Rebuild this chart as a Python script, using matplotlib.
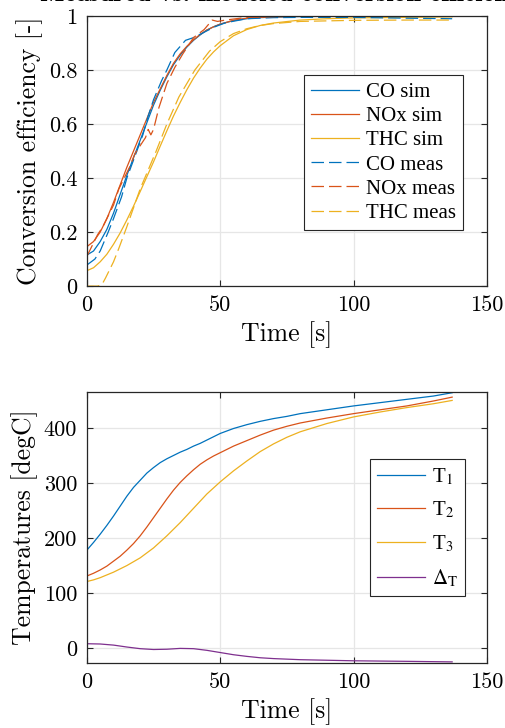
import matplotlib
matplotlib.use("Agg")
import matplotlib.pyplot as plt

# conversion efficiency, simulated
t_sim = [0, 2.5, 5, 7.5, 10, 12.5, 15, 17.5, 20, 22.5, 25, 27.5, 30, 32.5, 35, 37.5, 40, 42.5,
         45, 47.5, 50, 55, 60, 65, 70, 80, 90, 100, 120, 137]
co_sim = [0.115, 0.13, 0.165, 0.21, 0.27, 0.34, 0.41, 0.475, 0.54, 0.605, 0.67, 0.725, 0.775,
          0.82, 0.855, 0.885, 0.91, 0.93, 0.948, 0.96, 0.97, 0.983, 0.99, 0.994, 0.996, 0.998,
          0.999, 0.999, 1.0, 1.0]
nox_sim = [0.146, 0.165, 0.2, 0.25, 0.31, 0.375, 0.44, 0.5, 0.56, 0.62, 0.68, 0.73, 0.78,
           0.825, 0.86, 0.888, 0.912, 0.932, 0.948, 0.96, 0.97, 0.984, 0.992, 0.995, 0.997,
           0.999, 1.0, 1.0, 1.0, 1.0]
thc_sim = [0.057, 0.068, 0.09, 0.118, 0.155, 0.197, 0.245, 0.296, 0.35, 0.405, 0.46, 0.518,
           0.575, 0.63, 0.68, 0.727, 0.77, 0.807, 0.84, 0.867, 0.89, 0.927, 0.95, 0.965, 0.974,
           0.985, 0.99, 0.993, 0.995, 0.997]

# conversion efficiency, measured
t_co_meas = [0, 3, 5, 8, 10, 13, 15, 18, 21, 23, 25, 28, 30, 33, 37, 40, 44, 48, 52, 60, 70, 80,
             100, 120, 137]
co_meas = [0.078, 0.1, 0.13, 0.2, 0.25, 0.33, 0.4, 0.48, 0.56, 0.63, 0.69, 0.76, 0.8, 0.865,
           0.91, 0.92, 0.94, 0.96, 0.975, 0.99, 0.994, 0.995, 0.995, 0.992, 0.99]
t_nox_meas = [0, 2, 4, 6, 8, 10, 12, 14, 16, 18, 20, 22, 23, 24, 25, 27, 30, 33, 36, 40, 44,
              47, 49, 52, 60, 80, 100, 137]
nox_meas = [0.11, 0.15, 0.19, 0.22, 0.26, 0.3, 0.36, 0.4, 0.44, 0.49, 0.52, 0.55, 0.58, 0.56,
            0.58, 0.66, 0.75, 0.81, 0.86, 0.92, 0.95, 0.985, 0.98, 0.985, 0.995, 1.0, 1.0, 1.0]
t_thc_meas = [0, 4, 5, 6, 7, 8, 10, 12, 15, 17.5, 20, 23, 26, 30, 34.5, 40.5, 46, 50, 55, 60,
              65, 70, 80, 100, 120, 137]
thc_meas = [0.0, 0.0, 0.003, 0.012, 0.03, 0.05, 0.09, 0.14, 0.22, 0.29, 0.36, 0.43, 0.5, 0.6,
            0.7, 0.8, 0.87, 0.905, 0.935, 0.953, 0.965, 0.972, 0.98, 0.984, 0.985, 0.985]

# temperatures
t_temp = [0, 2.5, 5, 7.5, 10, 12.5, 15, 17.5, 20, 22.5, 25, 27.5, 30, 32.5, 35, 37.5, 40, 42.5,
          45, 47.5, 50, 55, 60, 65, 70, 75, 80, 90, 100, 110, 120, 130, 137]
T1 = [178, 192, 207, 223, 240, 258, 276, 292, 305, 318, 328, 337, 344, 350, 356, 361, 367, 372,
      378, 384, 390, 399, 406, 412, 417, 421, 426, 433, 440, 446, 452, 458, 464]
T2 = [131, 136, 142, 149, 158, 167, 178, 190, 204, 220, 237, 254, 271, 287, 301, 313, 324, 334,
      342, 349, 355, 367, 377, 387, 396, 403, 409, 418, 426, 433, 440, 449, 456]
T3 = [121, 124, 128, 133, 138, 144, 150, 157, 164, 173, 182, 193, 204, 216, 228, 241, 254, 267,
      280, 291, 302, 322, 340, 357, 371, 383, 393, 408, 420, 429, 437, 444, 450]
t_dT = [0, 5, 10, 15, 20, 25, 30, 35, 40, 45, 50, 55, 60, 65, 70, 80, 90, 100, 120, 137]
dT = [8, 7.5, 5.5, 2, -1, -2.5, -2, -0.5, -1, -4, -8, -12, -15, -17.5, -19, -21, -22, -23,
      -24, -25]

C1, C2, C3, C4 = "#0072BD", "#D95319", "#EDB120", "#7E2F8E"
DASH = (0, (10, 4))

plt.rcParams["font.family"] = ["cmr10", "DejaVu Serif"]
plt.rcParams["axes.unicode_minus"] = False


def style(ax):
    ax.grid(True, color="#e6e6e6", lw=0.9)
    ax.set_axisbelow(True)
    for s in ax.spines.values():
        s.set_color("#262626")
        s.set_linewidth(0.9)
    ax.tick_params(direction="in", top=True, right=True, length=4, width=0.8,
                   color="#262626", labelsize=16, pad=7)
    ax.set_xlim(0, 150)
    ax.set_xticks([0, 50, 100, 150], ["0", "50", "100", "150"])


def legend(ax, anchor, spacing):
    leg = ax.legend(loc="upper right", bbox_to_anchor=anchor, borderaxespad=0,
                    fancybox=False, framealpha=1, edgecolor="#262626", handlelength=2.3,
                    labelspacing=spacing, borderpad=0.35, handletextpad=0.3,
                    prop={"family": "Liberation Serif", "size": 15})
    leg.get_frame().set_linewidth(0.8)
    for txt in leg.get_texts():
        txt.set_math_fontfamily("stix")
    return leg


fig = plt.figure(figsize=(5.05, 7.28), dpi=100)
ax1 = fig.add_axes([0.172, 0.607, 0.792, 0.371])
ax2 = fig.add_axes([0.172, 0.0893, 0.792, 0.372])

lw = 0.9
ax1.plot(t_sim, co_sim, color=C1, lw=lw, label="CO sim")
ax1.plot(t_sim, nox_sim, color=C2, lw=lw, label="NOx sim")
ax1.plot(t_sim, thc_sim, color=C3, lw=lw, label="THC sim")
ax1.plot(t_co_meas, co_meas, color=C1, lw=lw, ls=DASH, label="CO meas")
ax1.plot(t_nox_meas, nox_meas, color=C2, lw=lw, ls=DASH, label="NOx meas")
ax1.plot(t_thc_meas, thc_meas, color=C3, lw=lw, ls=DASH, label="THC meas")
style(ax1)
ax1.set_ylim(0, 1)
ax1.set_yticks([0, 0.2, 0.4, 0.6, 0.8, 1], ["0", "0.2", "0.4", "0.6", "0.8", "1"])
ax1.set_xlabel("Time [s]", fontsize=18.5, labelpad=4)
ax1.set_ylabel("Conversion efficiency [-]", fontsize=18.5, labelpad=4)
ax1.set_title("Measured vs. modeled conversion efficiency", fontsize=18.5,
              family="cmb10", pad=11)
legend(ax1, (0.94, 0.781), 0.22)

ax2.plot(t_temp, T1, color=C1, lw=lw, label=r"T$_\mathrm{1}$")
ax2.plot(t_temp, T2, color=C2, lw=lw, label=r"T$_\mathrm{2}$")
ax2.plot(t_temp, T3, color=C3, lw=lw, label=r"T$_\mathrm{3}$")
ax2.plot(t_dT, dT, color=C4, lw=lw, label=r"$\Delta_\mathrm{T}$")
style(ax2)
ax2.set_ylim(-27, 465)
ax2.set_yticks([0, 100, 200, 300, 400], ["0", "100", "200", "300", "400"])
ax2.set_xlabel("Time [s]", fontsize=18.5, labelpad=4)
ax2.set_ylabel("Temperatures [degC]", fontsize=18.5, labelpad=4)
legend(ax2, (0.945, 0.753), 0.62)

fig.savefig("out.png", dpi=100)
